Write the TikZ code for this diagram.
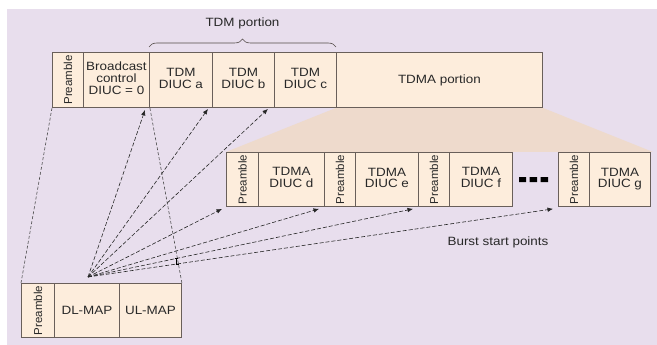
\documentclass[tikz,border=0pt]{standalone}
\usepackage{fontspec}
\usepackage{graphicx}
\setmainfont{Liberation Sans}[FakeStretch=1.12]
\newfontfamily\prefont{Liberation Sans}
\usetikzlibrary{decorations.pathreplacing,arrows.meta}
\definecolor{bgc}{RGB}{232,222,237}
\definecolor{cellc}{RGB}{253,237,220}
\definecolor{trapc}{RGB}{238,218,204}
\definecolor{edgec}{RGB}{105,95,90}
\definecolor{txtc}{RGB}{40,40,40}
\newcommand{\lbl}[1]{\raisebox{-3pt}{\begin{tabular}{@{}c@{}}#1\end{tabular}}}
\newcommand{\prelbl}{\rotatebox{90}{\prefont\fontsize{11.5}{12}\selectfont Preamble}}
\pgfdeclarelayer{bg}
\pgfsetlayers{bg,main}
\begin{document}
\begin{tikzpicture}[x=1pt,y=-1pt,
  cell/.style={draw=edgec, line width=0.9pt, fill=cellc, anchor=north west,
    inner sep=0pt, minimum height=55pt, text=txtc, align=center,
    font=\fontsize{12}{11}\selectfont},
  row2/.style={cell, minimum height=54pt},
  arr/.style={draw=black!85, line width=0.6pt, dash pattern=on 4pt off 2pt,
    -{Latex[length=5.5pt,width=4.5pt]}},
  zoomline/.style={draw=black!70, line width=0.6pt, dash pattern=on 3pt off 2pt},
  lab/.style={text=txtc, font=\fontsize{12}{11}\selectfont}]
\useasboundingbox (0,0) rectangle (657,345);
% top frame
\node[cell, minimum width=31pt] (tpre) at (52,52) {\prelbl};
\node[cell, minimum width=66pt] (tbc) at (83,52) {\lbl{Broadcast\\control\\DIUC = 0}};
\node[cell, minimum width=63pt] (ta) at (149,52) {\lbl{TDM\\DIUC a}};
\node[cell, minimum width=62pt] (tb) at (212,52) {\lbl{TDM\\DIUC b}};
\node[cell, minimum width=62pt] (tc) at (274,52) {\lbl{TDM\\DIUC c}};
\node[cell, minimum width=206pt] (tdma) at (336,52) {TDMA portion};
% second row
\node[row2, minimum width=32pt] (p1) at (226,152) {\prelbl};
\node[row2, minimum width=66pt] (d) at (258,152) {\lbl{TDMA\\DIUC d}};
\node[row2, minimum width=31pt] (p2) at (324,152) {\prelbl};
\node[row2, minimum width=63pt] (e) at (355,152) {\lbl{TDMA\\DIUC e}};
\node[row2, minimum width=31pt] (p3) at (418,152) {\prelbl};
\node[row2, minimum width=63pt] (f) at (449,152) {\lbl{TDMA\\DIUC f}};
\node[row2, minimum width=31pt] (p4) at (558,152) {\prelbl};
\node[row2, minimum width=61pt] (g) at (589,152) {\lbl{TDMA\\DIUC g}};
\fill[black] (519,177) rectangle (526,182) (529.5,177) rectangle (537,182) (540.5,177) rectangle (548,182);
% bottom frame
\node[row2, minimum width=33pt] (bpre) at (21,283) {\prelbl};
\node[row2, minimum width=65pt] (dl) at (54,283) {DL-MAP};
\node[row2, minimum width=62pt] (ul) at (119,283) {UL-MAP};
% background and zoom fan
\begin{pgfonlayer}{bg}
  \fill[bgc] (7,9) rectangle (657,345);
  \fill[trapc] (tdma.south west) -- (tdma.south east) -- (653,152) -- (p1.north west) -- cycle;
\end{pgfonlayer}
% brace
\draw[edgec!80!black, line width=0.6pt, decorate, decoration={brace, amplitude=8pt}]
  (149,47) -- (336,47);
\node[lab] (tdmlbl) at (242.5,23) {TDM portion};
% zoom lines
\draw[zoomline] (tpre.south west) -- (bpre.north west);
\draw[zoomline] (tbc.south east) -- (ul.north east);
% arrows
\coordinate (o) at (88,277);
\draw[arr] (o) -- ([xshift=-4pt,yshift=-2pt]ta.south west);
\draw[arr] (o) -- ([xshift=-4pt,yshift=-1pt]tb.south west);
\draw[arr] (o) -- ([xshift=-6pt,yshift=-1pt]tc.south west);
\draw[arr] (o) -- ([xshift=-4pt,yshift=-2pt]p1.south west);
\draw[arr] (o) -- ([xshift=-5pt,yshift=-2pt]p2.south west);
\draw[arr] (o) -- ([xshift=-5pt,yshift=-2pt]p3.south west);
\draw[arr] (o) -- ([xshift=-5pt,yshift=-2pt]p4.south west);
% crossing mark
\draw[black, line width=0.7pt] (174.5,258) -- (177.5,258) (176,258) -- (176,264) (176,264) -- (179,264);
\node[lab] (burst) at (498,242) {Burst start points};
\end{tikzpicture}
\end{document}
